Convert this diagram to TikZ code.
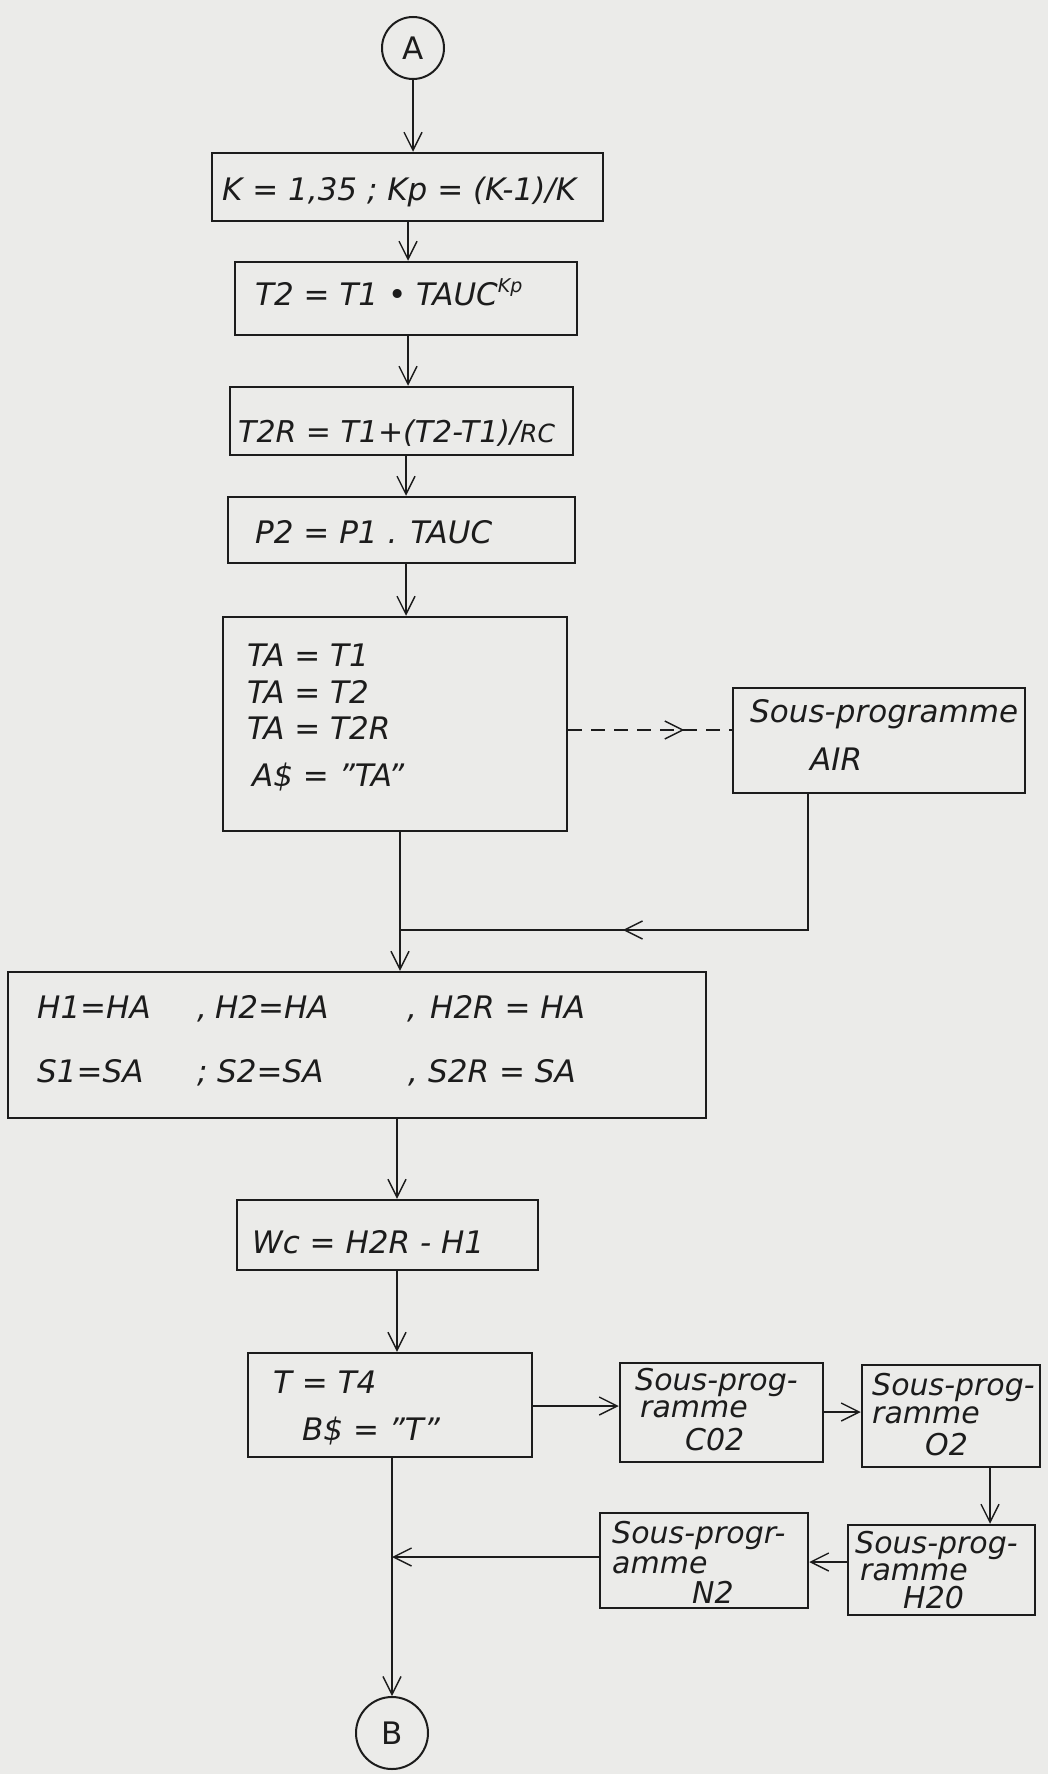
\documentclass[tikz,border=0pt]{standalone}
\usepackage{fontspec}
\setmainfont{DejaVu Sans}
\usetikzlibrary{arrows.meta,decorations.markings}
\definecolor{paper}{HTML}{EBEBE9}
\definecolor{ink}{HTML}{1C1C1C}
\newcommand\handfont{\fontsize{31}{31}\selectfont\itshape}
\newcommand\smallhand{\fontsize{30}{30}\selectfont\itshape}
\newcommand\supfont{\fontsize{19}{19}\selectfont\itshape}
\begin{document}
\begin{tikzpicture}[x=1pt,y=-1pt,
  >={Straight Barb[length=18pt,width=18pt,line width=1.4pt]},
  boxnode/.style={draw=ink,line width=2.5pt,rectangle,inner sep=0pt},
  connnode/.style={circle,draw=ink,line width=2pt,inner sep=0pt,minimum size=#1,font=\handfont\upshape,text=ink},
  txt/.style={anchor=base west,inner sep=0pt,text=ink,font=\handfont},
  stxt/.style={anchor=base west,inner sep=0pt,text=ink,font=\smallhand},
  flow/.style={draw=ink,line width=1.5pt,->},
  plainln/.style={draw=ink,line width=1.5pt},
  midarrow/.style={postaction={decorate},decoration={markings,mark=at position #1 with {\arrow{>}}}}
]
\fill[paper] (0,0) rectangle (1048,1774);
\useasboundingbox (0,0) rectangle (1048,1774);

% column coordinates
\coordinate (k1) at (408,0);
\coordinate (k2) at (406,0);
\coordinate (k3) at (400,0);
\coordinate (k4) at (397,0);
\coordinate (k5) at (392,0);

% connectors (circles)
\node[connnode=62pt] (A) at (413,48) {A};
\node[connnode=72pt] (B) at (392,1733) {B};

% boxes
\node[boxnode,minimum width=391pt,minimum height=68pt] (b1) at (407.5,187) {};
\node[boxnode,minimum width=342pt,minimum height=73pt] (b2) at (406,298.5) {};
\node[boxnode,minimum width=343pt,minimum height=68pt] (b3) at (401.5,421) {};
\node[boxnode,minimum width=347pt,minimum height=66pt] (b4) at (401.5,530) {};
\node[boxnode,minimum width=344pt,minimum height=214pt] (ta) at (395,724) {};
\node[boxnode,minimum width=292pt,minimum height=105pt] (air) at (879,740.5) {};
\node[boxnode,minimum width=698pt,minimum height=146pt] (h) at (357,1045) {};
\node[boxnode,minimum width=301pt,minimum height=70pt] (wc) at (387.5,1235) {};
\node[boxnode,minimum width=284pt,minimum height=104pt] (t) at (390,1405) {};
\node[boxnode,minimum width=203pt,minimum height=99pt] (c02) at (721.5,1412.5) {};
\node[boxnode,minimum width=178pt,minimum height=102pt] (o2) at (951,1416) {};
\node[boxnode,minimum width=187pt,minimum height=90pt] (h2o) at (941.5,1570) {};
\node[boxnode,minimum width=208pt,minimum height=95pt] (n2) at (704,1560.5) {};

% texts
\node[txt] (tx1) at (222,200) {K = 1,35 ; Kp = (K-1)/K};
\node[txt] (tx2) at (255,305) {T2 = T1 • TAUC\raisebox{13pt}{\supfont Kp}};
\node[txt,font=\smallhand] (tx3) at (238,442) {T2R = T1+(T2-T1)/{\fontsize{25}{25}\selectfont RC}};
\node[txt] (tx4) at (255,543) {P2 = P1 . TAUC};
\node[txt] (ta1) at (247,666) {TA = T1};
\node[txt] (ta2) at (247,703) {TA = T2};
\node[txt] (ta3) at (247,739) {TA = T2R};
\node[txt] (ta4) at (252,786) {A\$ = "TA"};
\node[txt] (air1) at (750,722) {Sous-programme};
\node[txt] (air2) at (810,770) {AIR};
\node[txt] (h1) at (37,1018) {\makebox[160pt][l]{H1=HA}\makebox[18pt][l]{,}\makebox[192pt][l]{H2=HA}\makebox[23pt][l]{,}H2R = HA};
\node[txt] (h2) at (37,1082) {\makebox[160pt][l]{S1=SA}\makebox[20pt][l]{;}\makebox[191pt][l]{S2=SA}\makebox[20pt][l]{,}S2R = SA};
\node[txt] (wct) at (252,1253) {Wc = H2R - H1};
\node[txt] (tt1) at (273,1393) {T = T4};
\node[txt] (tt2) at (302,1440) {B\$ = "T"};
\node[stxt] (c1) at (635,1390) {Sous-prog-};
\node[stxt] (c2) at (640,1417) {ramme};
\node[stxt] (c3) at (685,1450) {C02};
\node[stxt] (o1) at (872,1395) {Sous-prog-};
\node[stxt] (o2a) at (872,1423) {ramme};
\node[stxt] (o3) at (925,1455) {O2};
\node[stxt] (w1) at (855,1553) {Sous-prog-};
\node[stxt] (w2) at (860,1580) {ramme};
\node[stxt] (w3) at (903,1608) {H20};
\node[stxt] (n1) at (612,1543) {Sous-progr-};
\node[stxt] (n2a) at (612,1573) {amme};
\node[stxt] (n3) at (692,1603) {N2};

% main column
\draw[flow] (A.south) -- (A.south |- b1.north);
\draw[flow] (b1.south -| k1) -- (b2.north -| k1);
\draw[flow] (b2.south -| k1) -- (b3.north -| k1);
\draw[flow] (b3.south -| k2) -- (b4.north -| k2);
\draw[flow] (b4.south -| k2) -- (ta.north -| k2);
\draw[flow] (ta.south -| k3) -- (h.north -| k3);
\draw[flow] (h.south -| k4) -- (wc.north -| k4);
\draw[flow] (wc.south -| k4) -- (t.north -| k4);
\draw[flow] (t.south -| k5) -- (B.north);

% AIR loop
\coordinate (dy) at (0,730);
\draw[plainln,dash pattern=on 14pt off 9pt,midarrow=0.71] (ta.east |- dy) -- (air.west |- dy);
\coordinate (rx) at (808,0);
\coordinate (jy) at (0,930);
\draw[plainln,midarrow=0.59] (air.south -| rx) -- (rx |- jy) -- (k3 |- jy);

% subroutine chain
\coordinate (ya) at (0,1406);
\draw[flow] (t.east |- ya) -- (c02.west |- ya);
\coordinate (yb) at (0,1412);
\draw[flow] (c02.east |- yb) -- (o2.west |- yb);
\coordinate (xo) at (990,0);
\draw[flow] (o2.south -| xo) -- (h2o.north -| xo);
\coordinate (yc) at (0,1562);
\draw[flow] (h2o.west |- yc) -- (n2.east |- yc);
\coordinate (yn) at (0,1557);
\draw[flow] (n2.west |- yn) -- (k5 |- yn);
\end{tikzpicture}
\end{document}
